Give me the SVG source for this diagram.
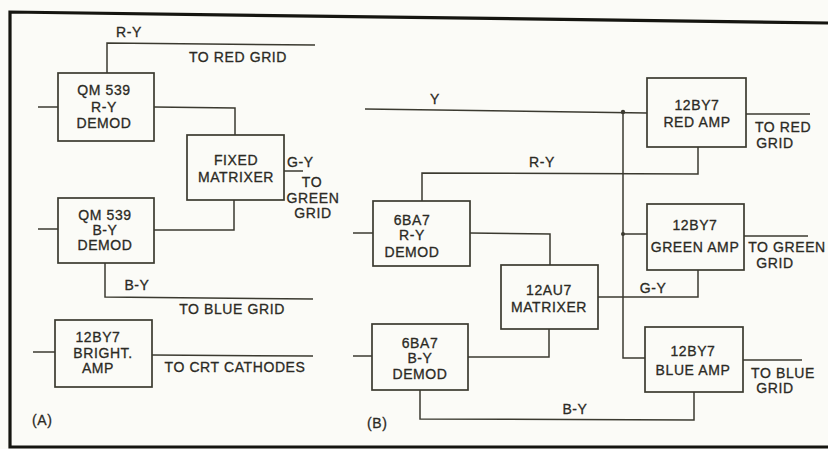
<svg xmlns="http://www.w3.org/2000/svg" width="828" height="449" viewBox="0 0 828 449">
<style>
.bg{fill:#fbfbf7}
.box{fill:none;stroke:#3b3a30;stroke-width:1.7}
.ln{fill:none;stroke:#3b3a30;stroke-width:1.5}
.frame{fill:none;stroke:#151510;stroke-width:3.2}
text{font-family:"Liberation Sans",Arial,sans-serif;font-size:14px;fill:#2b2a24;stroke:#2b2a24;stroke-width:0.3;letter-spacing:0.6px}
.c{text-anchor:middle}
</style>
<rect class="bg" x="0" y="0" width="828" height="449"/>
<polyline class="frame" points="828,23 10,12 10,447 828,447"/>

<g id="connectors">
  <!-- Panel A -->
  <polyline class="ln" points="107,73 107,43 315,45"/>
  <line class="ln" x1="38" y1="107" x2="58" y2="107"/>
  <polyline class="ln" points="154,107 235,108 235,135"/>
  <line class="ln" x1="284" y1="171" x2="303" y2="171"/>
  <polyline class="ln" points="154,230 234,230 234,200"/>
  <line class="ln" x1="38" y1="229" x2="58" y2="229"/>
  <polyline class="ln" points="105,263 105,297 313,299"/>
  <line class="ln" x1="33" y1="352" x2="55" y2="352"/>
  <line class="ln" x1="152" y1="355" x2="313" y2="356"/>
  <!-- Panel B -->
  <line class="ln" x1="365" y1="109" x2="647" y2="113"/>
  <polyline class="ln" points="623,112 623,358 645,358"/>
  <line class="ln" x1="623" y1="234" x2="647" y2="234"/>
  <circle cx="623" cy="112" r="2.2" fill="#3b3a30"/>
  <circle cx="623" cy="234" r="2" fill="#3b3a30"/>
  <line class="ln" x1="746" y1="114" x2="810" y2="114"/>
  <polyline class="ln" points="698,147 698,174 422,173 422,201"/>
  <line class="ln" x1="353" y1="233" x2="373" y2="233"/>
  <polyline class="ln" points="470,233 550,234 550,265"/>
  <polyline class="ln" points="598,297 698,297 698,270"/>
  <line class="ln" x1="744" y1="236" x2="808" y2="236"/>
  <line class="ln" x1="353" y1="356" x2="372" y2="356"/>
  <polyline class="ln" points="468,357 549,357 549,329"/>
  <polyline class="ln" points="420,390 420,419 694,420 694,392"/>
  <line class="ln" x1="743" y1="360" x2="802" y2="360"/>
</g>

<!-- Panel A labels -->
<g id="labels-a">
  <text x="129" y="37" class="c">R-Y</text>
  <text x="238" y="62" class="c">TO RED GRID</text>
  <text x="287" y="167">G-Y</text>
  <text x="312" y="187" class="c">TO</text>
  <text x="313" y="203" class="c">GREEN</text>
  <text x="313" y="218" class="c">GRID</text>
  <text x="137" y="290" class="c">B-Y</text>
  <text x="232" y="314" class="c">TO BLUE GRID</text>
  <text x="235" y="372" class="c">TO CRT CATHODES</text>
  <text x="32" y="425">(A)</text>
</g>

<g id="qm539-ry">
  <rect class="box" x="58" y="73" width="96" height="68"/>
  <text x="104" y="95" class="c">QM 539</text>
  <text x="104" y="112" class="c">R-Y</text>
  <text x="104" y="128" class="c">DEMOD</text>
</g>
<g id="fixed-matrixer">
  <rect class="box" x="187" y="135" width="97" height="65"/>
  <text x="236" y="165" class="c">FIXED</text>
  <text x="236" y="182" class="c">MATRIXER</text>
</g>
<g id="qm539-by">
  <rect class="box" x="58" y="198" width="96" height="65"/>
  <text x="105" y="220" class="c">QM 539</text>
  <text x="105" y="235" class="c">B-Y</text>
  <text x="105" y="250" class="c">DEMOD</text>
</g>
<g id="bright-amp">
  <rect class="box" x="55" y="320" width="97" height="67"/>
  <text x="98" y="342" class="c">12BY7</text>
  <text x="103" y="358" class="c">BRIGHT.</text>
  <text x="98" y="373" class="c">AMP</text>
</g>

<!-- Panel B labels -->
<g id="labels-b">
  <text x="435" y="104" class="c">Y</text>
  <text x="542" y="167" class="c">R-Y</text>
  <text x="653" y="293" class="c">G-Y</text>
  <text x="575" y="414" class="c">B-Y</text>
  <text x="783" y="132" class="c">TO RED</text>
  <text x="775" y="148" class="c">GRID</text>
  <text x="787" y="252" class="c">TO GREEN</text>
  <text x="775" y="268" class="c">GRID</text>
  <text x="783" y="378" class="c">TO BLUE</text>
  <text x="775" y="393" class="c">GRID</text>
  <text x="367" y="428">(B)</text>
</g>

<g id="red-amp">
  <rect class="box" x="647" y="78" width="99" height="69"/>
  <text x="697" y="110" class="c">12BY7</text>
  <text x="697" y="127" class="c">RED AMP</text>
</g>
<g id="ry-demod-b">
  <rect class="box" x="373" y="201" width="97" height="65"/>
  <text x="412" y="225" class="c">6BA7</text>
  <text x="412" y="240" class="c">R-Y</text>
  <text x="412" y="257" class="c">DEMOD</text>
</g>
<g id="green-amp">
  <rect class="box" x="647" y="204" width="97" height="66"/>
  <text x="695" y="230" class="c">12BY7</text>
  <text x="695" y="252" class="c">GREEN AMP</text>
</g>
<g id="matrixer-b">
  <rect class="box" x="501" y="265" width="97" height="64"/>
  <text x="549" y="295" class="c">12AU7</text>
  <text x="549" y="312" class="c">MATRIXER</text>
</g>
<g id="by-demod-b">
  <rect class="box" x="372" y="324" width="96" height="66"/>
  <text x="420" y="348" class="c">6BA7</text>
  <text x="420" y="363" class="c">B-Y</text>
  <text x="420" y="379" class="c">DEMOD</text>
</g>
<g id="blue-amp">
  <rect class="box" x="645" y="327" width="98" height="65"/>
  <text x="693" y="356" class="c">12BY7</text>
  <text x="693" y="375" class="c">BLUE AMP</text>
</g>
</svg>
